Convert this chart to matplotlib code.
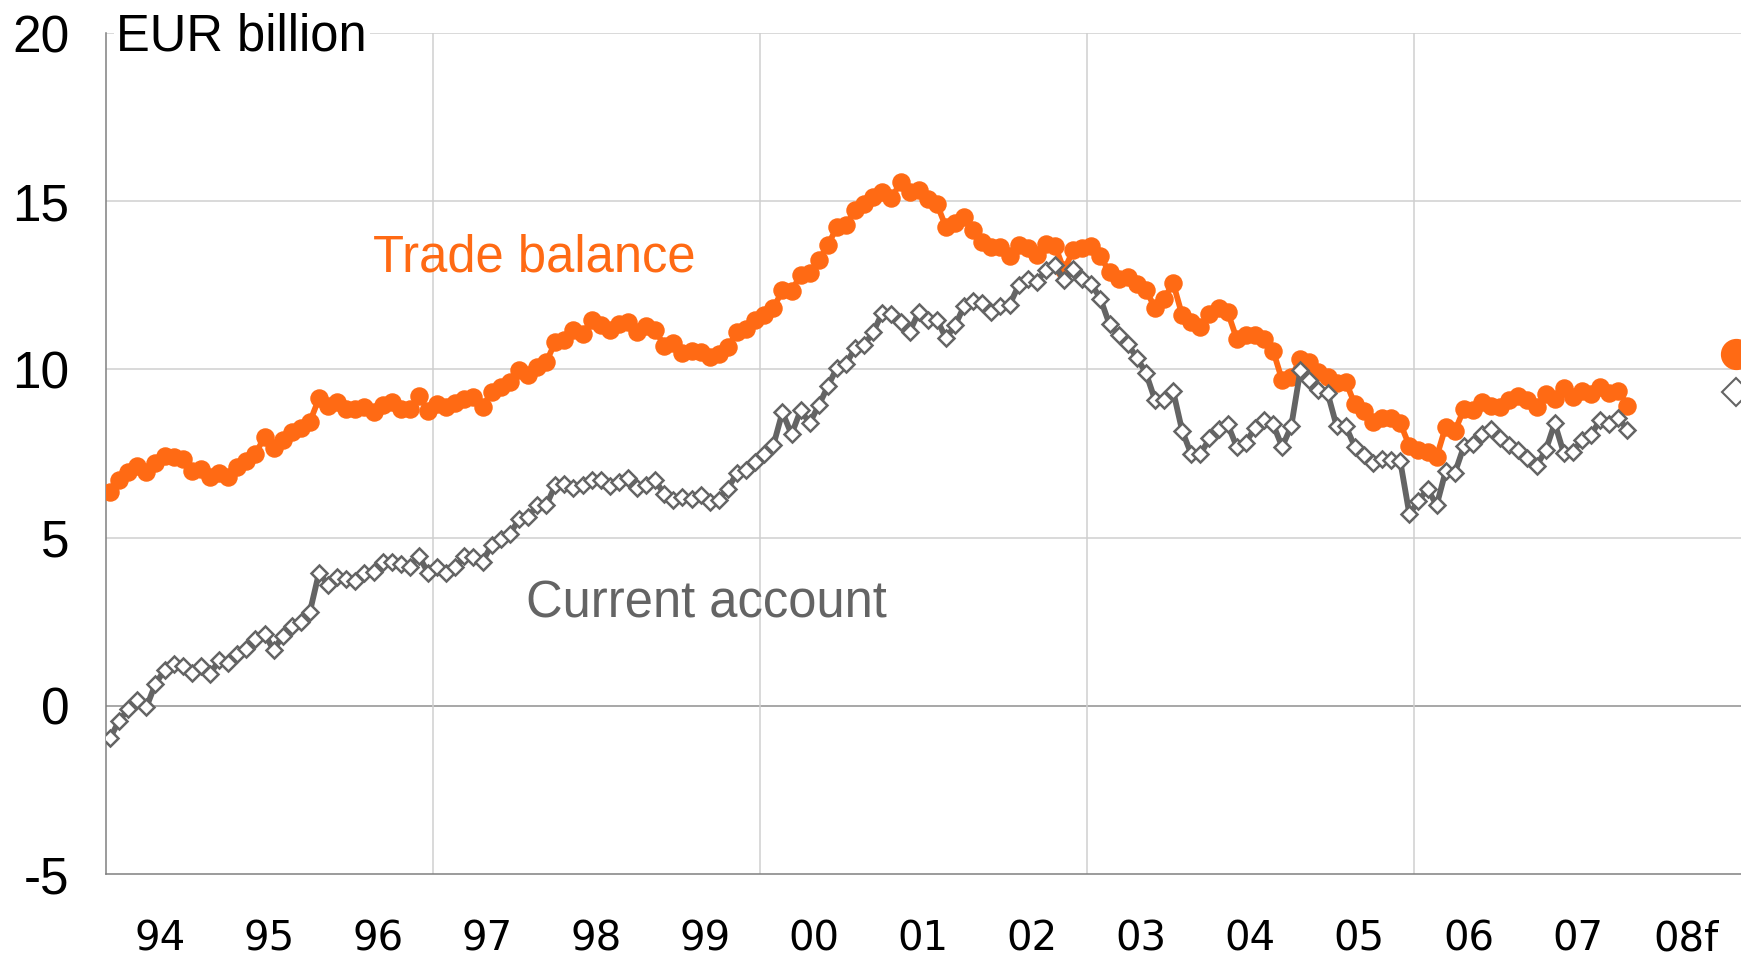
import numpy as np
import matplotlib.pyplot as plt

# monthly data, Jan 1994 - Dec 2007, EUR billion
start_year = 1994
trade_balance = [
    6.37, 6.71, 6.96, 7.13, 6.96, 7.21, 7.43, 7.39, 7.33, 6.99, 7.03, 6.79,
    6.93, 6.79, 7.11, 7.29, 7.50, 7.98, 7.65, 7.90, 8.15, 8.25, 8.45, 9.14,
    8.91, 9.04, 8.81, 8.81, 8.89, 8.74, 8.94, 9.04, 8.81, 8.81, 9.21, 8.77,
    8.97, 8.89, 8.99, 9.11, 9.19, 8.89, 9.34, 9.47, 9.63, 9.97, 9.82, 10.07,
    10.22, 10.81, 10.86, 11.16, 11.06, 11.46, 11.31, 11.16, 11.34, 11.41, 11.11, 11.28,
    11.16, 10.71, 10.78, 10.49, 10.56, 10.51, 10.37, 10.47, 10.66, 11.11, 11.19, 11.46,
    11.61, 11.82, 12.35, 12.34, 12.80, 12.87, 13.25, 13.70, 14.23, 14.28, 14.74, 14.92,
    15.14, 15.27, 15.09, 15.56, 15.27, 15.34, 15.08, 14.92, 14.23, 14.34, 14.54, 14.15,
    13.80, 13.63, 13.64, 13.38, 13.70, 13.62, 13.40, 13.74, 13.68, 12.95, 13.54, 13.62,
    13.68, 13.36, 12.89, 12.70, 12.74, 12.55, 12.37, 11.83, 12.10, 12.57, 11.61, 11.41,
    11.26, 11.64, 11.83, 11.71, 10.91, 11.01, 11.01, 10.91, 10.56, 9.68, 9.78, 10.30,
    10.21, 9.93, 9.78, 9.61, 9.64, 8.96, 8.75, 8.45, 8.55, 8.55, 8.40, 7.73,
    7.59, 7.56, 7.40, 8.30, 8.16, 8.82, 8.80, 9.04, 8.92, 8.88, 9.09, 9.21,
    9.09, 8.88, 9.27, 9.11, 9.44, 9.19, 9.37, 9.27, 9.49, 9.31, 9.37, 8.92,
]
current_account = [
    -0.96, -0.44, -0.10, 0.18, -0.04, 0.65, 1.07, 1.25, 1.19, 0.97, 1.17, 0.95,
    1.35, 1.27, 1.54, 1.68, 1.98, 2.14, 1.66, 2.08, 2.36, 2.48, 2.80, 3.96,
    3.59, 3.84, 3.76, 3.72, 3.96, 3.99, 4.29, 4.29, 4.22, 4.14, 4.44, 3.96,
    4.12, 3.96, 4.12, 4.44, 4.42, 4.29, 4.78, 4.95, 5.11, 5.54, 5.61, 5.96,
    5.96, 6.55, 6.60, 6.49, 6.55, 6.70, 6.72, 6.52, 6.65, 6.78, 6.49, 6.55,
    6.70, 6.29, 6.11, 6.21, 6.16, 6.26, 6.06, 6.13, 6.46, 6.92, 7.00, 7.25,
    7.50, 7.74, 8.73, 8.07, 8.78, 8.41, 8.93, 9.50, 10.05, 10.16, 10.64, 10.73,
    11.11, 11.69, 11.66, 11.42, 11.12, 11.70, 11.47, 11.48, 10.93, 11.31, 11.88, 12.03,
    11.96, 11.71, 11.90, 11.92, 12.50, 12.68, 12.61, 12.96, 13.09, 12.65, 12.99, 12.70,
    12.55, 12.10, 11.34, 11.01, 10.76, 10.35, 9.90, 9.10, 9.08, 9.36, 8.17, 7.48,
    7.48, 7.95, 8.24, 8.37, 7.70, 7.82, 8.27, 8.51, 8.37, 7.70, 8.31, 9.97,
    9.70, 9.40, 9.30, 8.31, 8.31, 7.70, 7.47, 7.23, 7.34, 7.32, 7.27, 5.70,
    6.09, 6.45, 5.96, 6.98, 6.92, 7.71, 7.79, 8.09, 8.22, 7.96, 7.76, 7.61,
    7.37, 7.14, 7.59, 8.40, 7.51, 7.56, 7.91, 8.06, 8.50, 8.38, 8.55, 8.21,
]
# forecast for 2008 (shown at year end)
forecast_year = 2008
trade_forecast = 10.47
current_forecast = 9.34

year_labels = ["94", "95", "96", "97", "98", "99", "00", "01",
               "02", "03", "04", "05", "06", "07", "08f"]
y_ticks = [-5, 0, 5, 10, 15, 20]

ORANGE = "#FF6A14"
GREY = "#646464"

months = np.arange(len(trade_balance))
x = start_year + (months + 0.5) / 12.0
x_fc = forecast_year + 11.5 / 12.0

fig = plt.figure(figsize=(17.41, 9.63), dpi=100)
ax = fig.add_axes([0.0606, 0.0924, 0.9394, 0.8733])

ax.plot(x, trade_balance, color=ORANGE, lw=4.2, marker="o", ms=12.3,
        mec=ORANGE, mfc=ORANGE, zorder=3)
ax.plot(x, current_account, color=GREY, lw=4.2, marker="D", ms=8.2,
        mec=GREY, mfc="white", mew=1.8, zorder=4)
ax.plot([x_fc], [trade_forecast], marker="o", ms=21.5, color=ORANGE,
        ls="none", zorder=3, clip_on=False)
ax.plot([x_fc], [current_forecast], marker="D", ms=14, mfc="white",
        mec=GREY, mew=1.5, ls="none", zorder=4, clip_on=False)

ax.set_xlim(start_year, start_year + len(year_labels))
ax.set_ylim(-5, 20)

# year labels in the middle of each year
ax.set_xticks(start_year + np.arange(len(year_labels)) + 0.5)
ax.set_xticklabels(year_labels, family=["Liberation Sans Narrow", "DejaVu Sans"],
                   fontsize=29)
ax.tick_params(axis="x", length=0, pad=33)
ax.set_yticks(y_ticks)
ax.set_yticklabels([str(v) for v in y_ticks], family="Liberation Sans", fontsize=37)
ax.tick_params(axis="y", length=0, pad=26)

for v in y_ticks[1:]:
    col = "#909090" if v == 0 else "#cfcfcf"
    ax.axhline(v, color=col, lw=1.1, zorder=1)
for yr in [1997, 2000, 2003, 2006]:
    ax.axvline(yr, color="#cfcfcf", lw=1.1, zorder=1)

for s in ["top", "right"]:
    ax.spines[s].set_visible(False)
ax.spines["left"].set_color("#808080")
ax.spines["bottom"].set_color("#808080")
ax.spines["left"].set_linewidth(1.1)
ax.spines["bottom"].set_linewidth(1.1)

ax.text(start_year + 0.10, 19.87, "EUR billion", fontsize=36.5, family="Liberation Sans",
        va="center", ha="left", zorder=6,
        bbox=dict(facecolor="white", edgecolor="none", pad=2))
ax.text(1997.93, 13.32, "Trade balance", color=ORANGE, fontsize=36.5,
        family="Liberation Sans", ha="center", va="center")
ax.text(1999.51, 3.03, "Current account", color=GREY, fontsize=36.5,
        family="Liberation Sans", ha="center", va="center")

fig.savefig("out.png", dpi=100)
